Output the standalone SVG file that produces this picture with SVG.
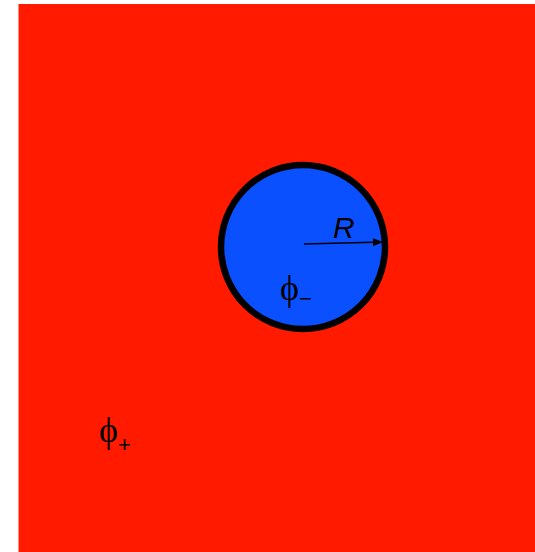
<svg xmlns="http://www.w3.org/2000/svg" width="535" height="552" viewBox="0 0 535 552">
<defs>
<marker id="ah" markerWidth="10" markerHeight="8" refX="10" refY="4" orient="auto" markerUnits="userSpaceOnUse">
<path d="M0,0 L10,4 L0,8 Z" fill="#000"/>
</marker>
<style>
.phi{font-family:"Liberation Serif","DejaVu Serif",serif;font-size:36px;fill:#000}
.sub{font-family:"Liberation Sans","DejaVu Sans",sans-serif;font-size:22px;fill:#000}
.lbl{font-family:"Liberation Sans","DejaVu Sans",sans-serif;font-size:30px;font-style:italic;fill:#000}
</style>
</defs>
<rect x="0" y="0" width="535" height="552" fill="#fff"/>
<g id="outer">
<rect x="18.5" y="4" width="516.5" height="548" fill="#FF1A00"/>
<text class="phi" x="99" y="442">ϕ</text>
<text class="sub" x="118" y="452">+</text>
</g>
<g id="inner">
<circle cx="303" cy="247" r="82" fill="#0A50FF" stroke="#000" stroke-width="6.5"/>
<text class="phi" x="280" y="300">ϕ</text>
<text class="sub" x="299" y="306">−</text>
</g>
<g id="connectors">
<line x1="304" y1="244" x2="383" y2="242" stroke="#000" stroke-width="1.5" marker-end="url(#ah)"/>
<text class="lbl" x="333" y="238">R</text>
</g>
</svg>
